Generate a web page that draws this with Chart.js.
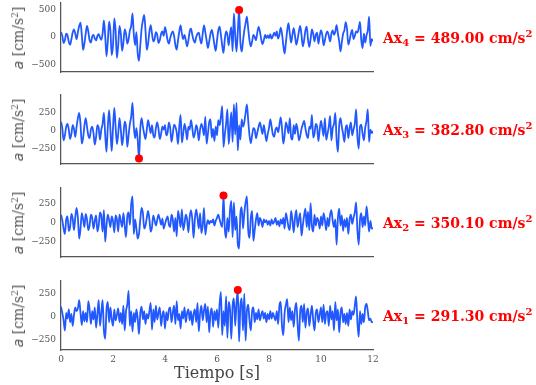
<!DOCTYPE html>
<html><head><meta charset="utf-8">
<script src="https://cdn.jsdelivr.net/npm/chart.js@4/dist/chart.umd.min.js"></script>
<style>
html,body{margin:0;padding:0;background:#fff;}
body{width:536px;height:385px;position:relative;overflow:hidden;}
.pan{position:absolute;left:0;width:390px;}
.ylab{position:absolute;left:18px;transform:translate(-50%,-50%) rotate(-90deg);white-space:nowrap;font-family:'DejaVu Serif';font-size:14px;color:#555;}
.ylab i{font-family:'DejaVu Sans';font-style:oblique;}
.peak{position:absolute;left:383px;transform:translateY(-50%);white-space:nowrap;font-family:'DejaVu Serif';font-weight:bold;font-size:14px;color:#ff0000;}
.sub{font-size:10px;position:relative;top:3px;}
.sup{font-size:10px;position:relative;top:-6px;}
.ylab .sup{font-size:9px;top:-5px;}
.xlab{position:absolute;left:217px;top:372px;transform:translate(-50%,-50%);font-family:'DejaVu Serif';font-size:16px;color:#444;white-space:nowrap;}
</style>
</head><body>
<script>
// ---- data ----
const timeStep = 0.05; // s
const times = Array.from({length: 241}, (_, i) => +(i * timeStep).toFixed(2));
const xTicks = [0, 2, 4, 6, 8, 10, 12];

const accAx4 = [
 90, 20, -110, -60, 60, 30, -90, -140, -40, 80, 140, 60, -40, 90, 200, 260, 40, -235, -120, 60,
 200, 100, -60, -100, 10, 40, -30, -60, 20, 50, -10, -50, 60, 300, 20, -350, -80, 280, 120, -330,
 -150, 340, 120, -380, -150, 200, 60, -250, -100, 140, 60, -120, -40, 120, 200, 430, 50, -150, 90, -300,
 -435, -150, 150, 300, 400, 120, -235, -120, 100, 215, 60, -80, -40, 90, 40, -110, -60, 60, 100, 20,
 180, 80, -60, -120, -20, 60, 100, 20, -150, -230, -60, 100, 210, 60, -40, 40, -60, -170, -60, 100,
 150, 40, -60, -100, 0, 60, 80, -40, -120, 60, 210, 90, -60, -200, -80, 60, 130, 20, -140, -250,
 -60, 120, 190, 40, -150, -290, -40, 100, 40, -150, 60, 180, -260, 430, 40, -265, 100, 489, -100, -265,
 -80, 120, 250, 370, 150, -60, -170, -80, 40, 0, -60, 80, 185, 100, -40, -130, -60, 40, -20, 30,
 -20, 50, -30, 20, 80, 20, 100, -30, 40, 170, 60, -150, -300, -100, 120, 250, 60, -100, 40, 160,
 20, -140, -40, 100, 200, 40, -170, -60, 120, 190, -40, -180, -40, 140, 60, -80, 40, 80, -120, 20,
 120, 40, -150, -60, 60, 100, 20, -80, 60, 120, 40, 100, 215, 60, -80, -260, -100, 60, 120, 270,
 150, -140, -60, 60, 130, -40, 20, 100, 80, 160, 275, -60, -200, 60, -100, 30, 120, 370, -160, -40,
 -80];
const accAx3 = [
 130, 40, -130, -60, 60, 100, 20, -110, -40, 80, 30, -80, 60, 180, 250, 100, -175, -100, 70, 180,
 60, -60, -100, 20, 60, -30, -190, -80, 80, 40, -120, 20, 100, 250, -50, -290, 60, 290, 20, -280,
 40, 320, 60, -180, -40, 180, 20, -200, -60, 130, 60, -220, -60, 100, 200, 390, 60, -100, 40, -120,
 -382.8, 40, 180, 60, -40, -110, 20, 150, 60, -30, 80, -60, -90, 40, 120, 30, -110, -40, 60, 20,
 80, -60, -20, 120, 40, -150, -40, 90, 60, -20, -180, 60, 225, -160, -40, 100, 20, -120, 60, 20,
 150, 40, -90, -30, 80, 20, -130, 20, 100, 40, -60, 200, -175, -40, 120, 160, -90, 30, -140, 60,
 -60, 150, 80, 200, 345, -220, -50, 100, 300, -180, 40, 260, -150, 370, -50, 390, -270, 80, -120, 160,
 60, 120, 250, 370, 150, -60, -170, -60, 40, 20, -100, -20, 60, 120, 40, -40, 80, -30, -140, -40,
 40, 160, 60, -50, -80, 20, 50, -20, 80, 190, 40, -175, -60, 120, 60, -30, 180, -90, -120, 80,
 -40, 100, 20, -130, -70, 30, 90, 140, 40, -60, -100, 60, 30, 225, -90, -40, 100, 60, -140, 20,
 140, 40, -70, 180, -120, -40, 60, 210, -130, 40, 100, 250, -120, -290, 80, 180, 60, -40, -150, 40,
 80, -100, 40, 120, -60, 20, 100, 300, -80, -245, 60, 90, -40, -130, 40, 140, 300, -150, 20, -30,
 0];
const accAx2 = [
 100, 30, -80, -150, 40, 80, -110, -60, 110, 50, -100, 70, 190, 60, -210, -80, 120, 40, -60, 110,
 40, -100, -40, 100, 60, -80, 20, 90, -120, -40, 130, 80, -120, 160, -250, -40, 100, 30, -60, 80,
 20, -130, 90, 40, -120, 100, 20, -60, 120, -40, -190, 80, 130, -30, 240, 340, -150, 40, -80, -210,
 -150, 40, 190, 120, -80, -40, 60, 150, 40, -120, -60, 90, 30, -40, 30, 100, 40, -30, 50, -80,
 -20, 40, 80, -30, -60, 100, 40, -120, 60, -180, 150, 60, -60, 170, -100, -20, 100, 40, -130, 70,
 160, 40, -200, 50, 170, 60, -80, 120, -140, -40, 190, -160, -40, 30, -20, 20, 0, 40, -40, 20,
 60, 100, 40, -20, -60, 350.1, -80, -200, 60, -120, 160, 280, -190, 260, -100, 80, -280, -340, 120, 200,
 -80, 120, 260, 340, -100, -200, 60, 150, -240, -100, 40, 120, -40, 60, 20, -60, 40, 0, 30, -30,
 20, -40, 40, -20, 10, 60, -30, 20, -50, 40, -20, 60, -80, 120, 40, -60, -100, 150, 40, -130,
 60, 160, -60, 40, 120, -170, -40, 90, 180, -60, 140, -100, 250, -50, -120, 100, -40, 60, 20, -80,
 80, -40, 120, 30, -100, 60, -50, 100, 160, 20, -60, 40, -290, 60, 180, -40, 90, -110, 40, -60,
 60, -150, 40, 100, -20, 60, 130, 260, -100, -290, 40, 120, -60, 80, -40, 210, 60, -120, 20, -80,
 -70];
const accAx1 = [
 110, 40, -40, -150, 40, -20, 80, -60, 30, -100, 20, 100, 60, 90, 180, 40, -90, 60, -50, 40,
 -60, 170, 80, -80, 60, -30, 100, -120, 30, 180, -100, 40, 180, -150, -240, 80, 160, -60, 100, -30,
 -100, 80, -40, 20, 90, -60, 40, -80, 120, -150, 60, 130, 280, -100, 60, -160, 40, -60, 80, -20,
 -190, 40, 110, -30, 60, -80, 30, -20, 60, 150, -140, 80, -60, 120, -30, 40, 100, -100, 20, 60,
 -130, 50, -40, 80, 100, -60, 40, 120, -80, 170, -40, 30, -130, 60, -20, 100, -60, 40, 80, -40,
 60, -90, 30, 80, -60, 150, -160, 40, 120, -40, 70, 140, -60, 110, -170, 40, 90, -110, 60, -40,
 80, -120, 140, 270, -200, 60, -100, 220, -230, 160, 80, -240, 120, 200, -100, 150, 291.3, -270, 120, 200,
 -150, 250, -260, 60, 130, -40, -150, 60, 100, -60, 40, -30, 80, -40, 20, 60, -20, 40, -60, 30,
 -30, 60, -20, 40, 0, -40, 60, -80, 120, 160, -100, -200, 40, 130, 190, -60, 100, -40, 60, -110,
 80, 150, -80, -260, 60, 120, -60, 140, -120, 40, 90, -100, 20, 120, -40, -150, 40, 80, -60, 20,
 100, -60, 130, -80, 40, 60, -100, 120, -30, 60, -150, 160, -40, 80, -170, 40, 100, -60, 30, -80,
 40, -100, 80, -30, 60, 20, 120, 220, -60, -220, 60, -80, 30, -60, 100, 140, 60, -40, -20, -60,
 -60];

const panelNames = ['Ax4', 'Ax3', 'Ax2', 'Ax1'];
const panelSeries = [accAx4, accAx3, accAx2, accAx1];
const peakTimes = [6.85, 3.00, 6.25, 6.80];
const peakValues = [489.0, -382.8, 350.1, 291.3];
const yMins = [-636, -458, -450, -362];
const yMaxs = [618, 500, 448, 388];
const yTickSets = [[-500, 0, 500], [-250, 0, 250], [-250, 0, 250], [-250, 0, 250]];

// ---- layout ----
const PANEL_TOPS = [3, 95, 188, 281];
const PANEL_H = 69;
const AXIS_W = 61;
const LINE_COLOR = '#2159ff';
const SPINE = {display: true, color: '#555', width: 1.25};
const TICK_FONT = {family: 'DejaVu Serif', size: 9};
const fmt = v => v < 0 ? '\u2212' + Math.abs(v) : String(v);

panelSeries.forEach((vals, k) => {
  const isBottom = k === panelSeries.length - 1;
  const padTop = 6, padBottom = isBottom ? 10 : 6;
  const xAxisH = isBottom ? 20 : 0;
  const top = PANEL_TOPS[k];
  const div = document.createElement('div');
  div.className = 'pan';
  div.style.top = (top - padTop) + 'px';
  div.style.height = (PANEL_H + padTop + padBottom + xAxisH) + 'px';
  const cv = document.createElement('canvas');
  div.appendChild(cv);
  document.body.appendChild(div);

  new Chart(cv, {
    type: 'line',
    data: {datasets: [
      {data: [{x: peakTimes[k], y: peakValues[k]}], showLine: false, pointRadius: 4,
       pointBackgroundColor: '#ff0000', pointBorderColor: '#ff0000', pointBorderWidth: 0, order: 0},
      {data: times.map((t, i) => ({x: t, y: vals[i]})), borderColor: LINE_COLOR, borderWidth: 1.8,
       pointRadius: 0, cubicInterpolationMode: 'monotone', fill: false, order: 1}
    ]},
    options: {
      responsive: true, maintainAspectRatio: false, animation: false, devicePixelRatio: 1,
      events: [],
      layout: {padding: {top: padTop, bottom: padBottom, left: 0, right: 17}},
      plugins: {legend: {display: false}, tooltip: {enabled: false}},
      scales: {
        x: {type: 'linear', min: 0, max: 12,
            grid: {display: false, drawTicks: false}, border: SPINE,
            ticks: {display: isBottom, font: TICK_FONT, color: '#555', padding: 4, maxRotation: 0, callback: fmt},
            afterBuildTicks: s => { s.ticks = xTicks.map(v => ({value: v})); },
            afterFit: s => { s.height = xAxisH; s.paddingLeft = 0; s.paddingRight = 0; }},
        y: {type: 'linear', min: yMins[k], max: yMaxs[k],
            grid: {display: false, drawTicks: false}, border: SPINE,
            ticks: {font: TICK_FONT, color: '#555', padding: 5, callback: fmt},
            afterBuildTicks: s => { s.ticks = yTickSets[k].map(v => ({value: v})); },
            afterFit: s => { s.width = AXIS_W; s.paddingTop = 0; s.paddingBottom = 0; }}
      }
    }
  });

  const cy = top + PANEL_H / 2;
  const yl = document.createElement('div');
  yl.className = 'ylab';
  yl.style.top = cy + 'px';
  yl.innerHTML = '<i>a</i> [cm/s<span class="sup">2</span>]';
  document.body.appendChild(yl);

  const pk = document.createElement('div');
  pk.className = 'peak';
  pk.style.top = cy + 'px';
  pk.innerHTML = 'Ax<span class="sub">' + panelNames[k].slice(2) + '</span> = ' +
    Math.abs(peakValues[k]).toFixed(2) + ' cm/s<span class="sup">2</span>';
  document.body.appendChild(pk);
});

const xl = document.createElement('div');
xl.className = 'xlab';
xl.textContent = 'Tiempo [s]';
document.body.appendChild(xl);
</script>
</body></html>
